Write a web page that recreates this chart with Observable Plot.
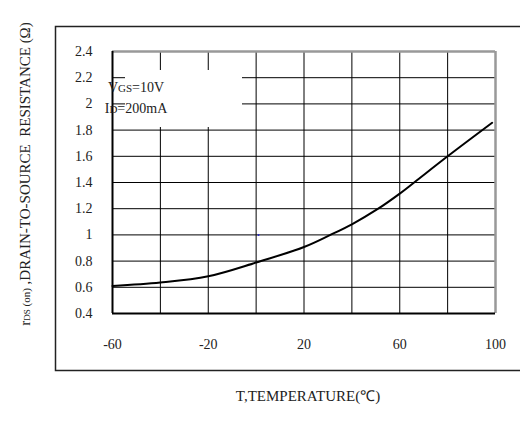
<!DOCTYPE html>
<html>
<head>
<meta charset="utf-8">
<script src="https://cdn.jsdelivr.net/npm/d3@7"></script>
<script src="https://cdn.jsdelivr.net/npm/@observablehq/plot@0.6"></script>
<style>
  html, body { margin: 0; padding: 0; background: #fff; }
  svg text { white-space: pre; }
</style>
</head>
<body>
<div id="chart"></div>
<script>
// Data
const temperature = [-60, -40, -20, 0, 20, 31, 40, 51, 60, 66, 80, 98.6];
const resistance  = [0.61, 0.636, 0.684, 0.789, 0.908, 1.0, 1.081, 1.2, 1.315, 1.4, 1.6, 1.856];
const xGridTicks = [-60, -40, -20, 0, 20, 40, 60, 80, 100];
const xLabelTicks = [-60, -20, 20, 60, 100];
const yTicks = [0.4, 0.6, 0.8, 1.0, 1.2, 1.4, 1.6, 1.8, 2.0, 2.2, 2.4];
const strayDot = [{t: 1, r: 1.0}];

const data = temperature.map((t, i) => ({t, r: resistance[i]}));
const font = "'Liberation Serif', 'Times New Roman', serif";

const plot = Plot.plot({
  width: 520,
  height: 434,
  marginLeft: 112,
  marginRight: 25,
  marginTop: 51,
  marginBottom: 121,
  style: {fontFamily: font, fontSize: "14px", background: "#fff", color: "#222"},
  x: {domain: [-60, 100]},
  y: {domain: [0.4, 2.4]},
  marks: [
    Plot.gridX(xGridTicks, {stroke: "#000", strokeOpacity: 1, strokeWidth: 1}),
    Plot.gridY(yTicks, {stroke: "#000", strokeOpacity: 1, strokeWidth: 1}),
    Plot.ruleY([2.4], {stroke: "#999", strokeWidth: 2.5}),
    Plot.ruleX([100], {stroke: "#999", strokeWidth: 2.5}),
    Plot.ruleX([-60], {stroke: "#000", strokeWidth: 2}),
    Plot.ruleY([0.4], {stroke: "#000", strokeWidth: 2}),
    Plot.axisX(xLabelTicks, {tickSize: 0, tickPadding: 26, fontSize: 14, label: null,
      tickFormat: d => String(d)}),
    Plot.axisY(yTicks, {tickSize: 0, tickPadding: 20, fontSize: 14, label: null,
      tickFormat: d => String(+d.toFixed(1))}),
    Plot.line(data, {x: "t", y: "r", curve: "catmull-rom", stroke: "#000", strokeWidth: 2}),
    Plot.dot(strayDot, {x: "t", y: "r", r: 1, fill: "#22c", stroke: "none"})
  ]
});

document.getElementById("chart").appendChild(plot);

const svg = d3.select(plot);

// Outer frame (open on the right)
svg.append("path")
  .attr("d", "M520,26.5H55.5V370.5H520")
  .attr("fill", "none")
  .attr("stroke", "#222")
  .attr("stroke-width", 1.5);

// Legend box
const lg = svg.append("g");
lg.append("rect")
  .attr("x", 125).attr("y", 70)
  .attr("width", 117).attr("height", 57)
  .attr("fill", "#fff");
const t1 = lg.append("text").attr("x", 136).attr("y", 92).style("font-size", "14px").attr("fill", "#222");
t1.append("tspan").text("V");
t1.append("tspan").style("font-size", "11px").text("GS");
t1.append("tspan").text("=10V");
const t2 = lg.append("text").attr("x", 136).attr("y", 113).style("font-size", "14px").attr("fill", "#222");
t2.append("tspan").text("I");
t2.append("tspan").style("font-size", "11px").text("D");
t2.append("tspan").text("=200mA");

// Y axis title
const yt = svg.append("text")
  .attr("transform", "translate(30,174) rotate(-90)")
  .attr("text-anchor", "middle")
  .style("font-size", "15px")
  .attr("fill", "#222");
yt.append("tspan").text("r");
yt.append("tspan").style("font-size", "9px").text("DS");
yt.append("tspan").style("font-size", "11px").text(" (on)");
yt.append("tspan").text(" ,DRAIN-TO-SOURCE  RESISTANCE (Ω)");

// X axis title
svg.append("text")
  .attr("x", 308).attr("y", 401)
  .attr("text-anchor", "middle")
  .style("font-size", "15px")
  .attr("fill", "#222")
  .text("T,TEMPERATURE(℃)");
</script>
</body>
</html>
